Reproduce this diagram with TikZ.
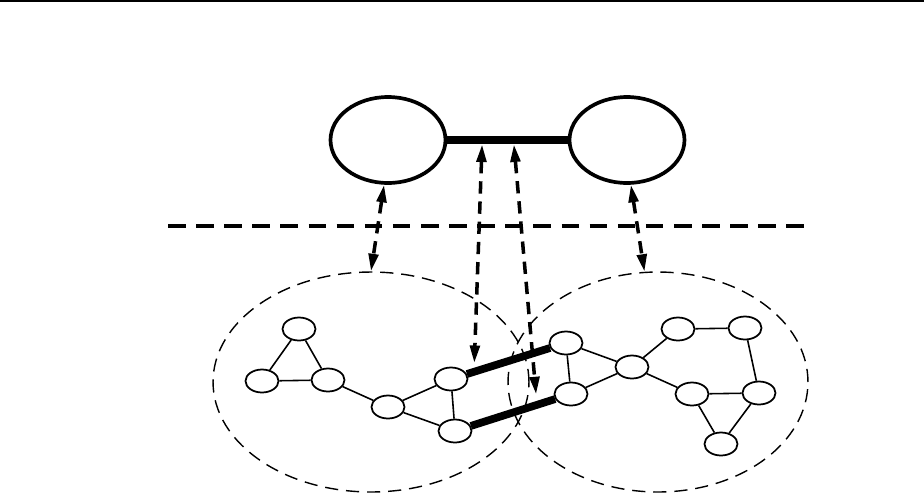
\documentclass[tikz,border=0pt]{standalone}
\usetikzlibrary{arrows.meta, shapes.geometric}

\begin{document}
\begin{tikzpicture}[x=0.02cm, y=-0.02cm,
          group/.style={draw, ellipse, line width=2.1pt, inner sep=0pt,
                        minimum width=2.3cm, minimum height=1.72cm},
          region/.style={draw, ellipse, line width=0.8pt, inner sep=0pt,
                         dash pattern=on 7.5pt off 4.5pt, minimum height=4.4cm},
          vert/.style={draw, ellipse, line width=1pt, inner sep=0pt,
                       minimum width=0.66cm, minimum height=0.46cm},
          link/.style={line width=0.9pt},
          bridge/.style={line width=4.4pt},
          map/.style={{Triangle[length=10pt, width=5.5pt]}-{Triangle[length=10pt, width=5.5pt]},
                      line width=2pt, dash pattern=on 7pt off 4.5pt}
        ]
        \useasboundingbox (0,0) rectangle (924,495);
        \draw[line width=0.9pt] (0,1) -- (924,1);

        % coarse level
        \node[group] (gL) at (388,140) {};
        \node[group] (gR) at (627,140) {};
        \draw[bridge] (gL.east) -- (gR.west)
          coordinate[pos=0.29] (b1) coordinate[pos=0.55] (b2);
        \draw[line width=2.3pt, dash pattern=on 10pt off 6pt] (168,226) -- (812,226);

        % fine level
        \node[region, minimum width=6.32cm] (rL) at (371,382) {};
        \node[region, minimum width=6cm] (rR) at (658,382) {};

        \node[vert] (a) at (299,329) {};
        \node[vert] (b) at (262,381) {};
        \node[vert] (c) at (328,380) {};
        \node[vert] (d) at (388,407) {};
        \node[vert] (e) at (451,379) {};
        \node[vert] (f) at (455,431) {};
        \node[vert] (g) at (566,343) {};
        \node[vert] (h) at (571,394) {};
        \node[vert] (i) at (632,367) {};
        \node[vert] (j) at (678,329) {};
        \node[vert] (k) at (745,328) {};
        \node[vert] (l) at (692,394) {};
        \node[vert] (m) at (759,393) {};
        \node[vert] (n) at (721,444) {};

        \foreach \u/\v in {a/b, a/c, b/c, c/d, d/e, d/f, e/f,
                           g/h, g/i, h/i, i/j, i/l, j/k, k/m, l/m, l/n, m/n}
          \draw[link] (\u) -- (\v);
        \draw[bridge] (e) -- (g);
        \draw[bridge] (f) -- (h);
        \path (e.center) -- (g.center) coordinate[pos=0.2] (eg);
        \path (f.center) -- (h.center) coordinate[pos=0.707] (fh);

        % mapping between levels
        \draw[map] (gL.-95) -- (rL.north);
        \draw[map] (gR.-85) -- (rR.97);
        \draw[map, shorten <=2.5pt, shorten >=5pt] (b1) -- (eg);
        \draw[map, shorten <=2.5pt, shorten >=6pt] (b2) -- (fh);
      \end{tikzpicture}
\end{document}
